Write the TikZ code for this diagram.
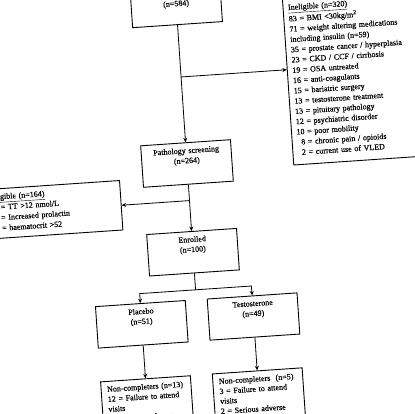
\documentclass[tikz,border=0pt]{standalone}
\usepackage{fontspec}
\setmainfont{Liberation Serif}[FakeBold=0.4]
\usetikzlibrary{positioning, arrows.meta, calc}

\tikzset{
  stagebox/.style={draw, line width=0.9pt, text width=80pt, inner sep=5pt, align=center, text depth=26pt},
  listbox/.style={draw, line width=0.9pt, inner sep=5pt, align=left},
  dropbox/.style={draw, line width=0.9pt, text width=78pt, inner xsep=6pt, inner ysep=5pt, align=left, text depth=50pt},
  joinline/.style={line width=0.8pt},
  joinarrow/.style={joinline, -{Stealth[length=4.5pt, width=4pt]}}
}

\begin{document}
\begin{tikzpicture}[x=1pt, y=-1pt, font=\fontsize{8}{10}\selectfont]
  \path[use as bounding box, fill=white] (0,0) rectangle (415,414);
  \clip (0,0) rectangle (415,414);
  \begin{scope}[rotate around={3.9:(207,207)}, transform shape]
    % main column
    \node[stagebox, text depth=13.5pt, anchor=south] (screened) at (190,23.5) {(n=584)};
    \node[stagebox, below=117.5pt of screened] (pathology) {Pathology screening\\(n=264)};
    \node[stagebox, below=46.5pt of pathology] (enrolled) {Enrolled\\(n=100)};
    \node[stagebox, below=26pt of enrolled, xshift=-56pt] (placebo) {Placebo\\(n=51)};
    \node[stagebox, below=26pt of enrolled, xshift=56pt] (testosterone) {Testosterone\\(n=49)};
    \node[dropbox, below=33pt of placebo] (dropplacebo) {Non-completers (n=13)\\12 = Failure to attend\\visits\\1 = Serious adverse};
    \node[dropbox, below=33pt of testosterone] (droptesto) {Non-completers~~(n=5)\\3 = Failure to attend\\visits\\2 = Serious adverse};

    \coordinate[below=52pt of screened.south] (cutone);
    \coordinate[below=16pt of pathology.south] (cuttwo);
    \coordinate[below=16.5pt of enrolled.south] (split);

    % exclusions
    \node[listbox, font=\fontsize{8}{10.3}\selectfont, text width=125pt, minimum height=170pt, right=106pt of cutone, yshift=-10.5pt] (inelig) {\underline{Ineligible (n=320)}\\
      83 = BMI <30kg/m\textsuperscript{2}\\
      71 = weight altering medications\\
      including insulin (n=59)\\
      35 = prostate cancer / hyperplasia\\
      23 = CKD / CCF / cirrhosis\\
      19 = OSA untreated\\
      16 = anti-coagulants\\
      15 = bariatric surgery\\
      13 = testosterone treatment\\
      13 = pituitary pathology\\
      12 = psychiatric disorder\\
      10 = poor mobility\\
      \phantom{0}8 = chronic pain / opioids\\
      \phantom{0}2 = current use of VLED};
    \node[listbox, font=\fontsize{8}{10.5}\selectfont, text width=130pt, text depth=34pt, left=68pt of cuttwo] (ineligtwo) {\underline{Ineligible (n=164)}\\
      150 = TT >12 nmol/L\\
      \phantom{0}11 = Increased prolactin\\
      \phantom{00}3 = haematocrit >52};

    % connectors
    \draw[joinarrow] (screened.south) -- (pathology.north);
    \draw[joinarrow] (cutone) -- ($(inelig.north west)!(cutone)!(inelig.south west)$);
    \draw[joinarrow] (pathology.south) -- (enrolled.north);
    \draw[joinarrow] (cuttwo) -- ($(ineligtwo.north east)!(cuttwo)!(ineligtwo.south east)$);
    \draw[joinline] (enrolled.south) -- (split);
    \draw[joinarrow] (split) -- ($(placebo.north)!(split)!(placebo.south)$) -- (placebo.north);
    \draw[joinarrow] (split) -- ($(testosterone.north)!(split)!(testosterone.south)$) -- (testosterone.north);
    \draw[joinarrow] (placebo.south) -- (dropplacebo.north);
    \draw[joinarrow] (testosterone.south) -- (droptesto.north);
  \end{scope}
\end{tikzpicture}
\end{document}
